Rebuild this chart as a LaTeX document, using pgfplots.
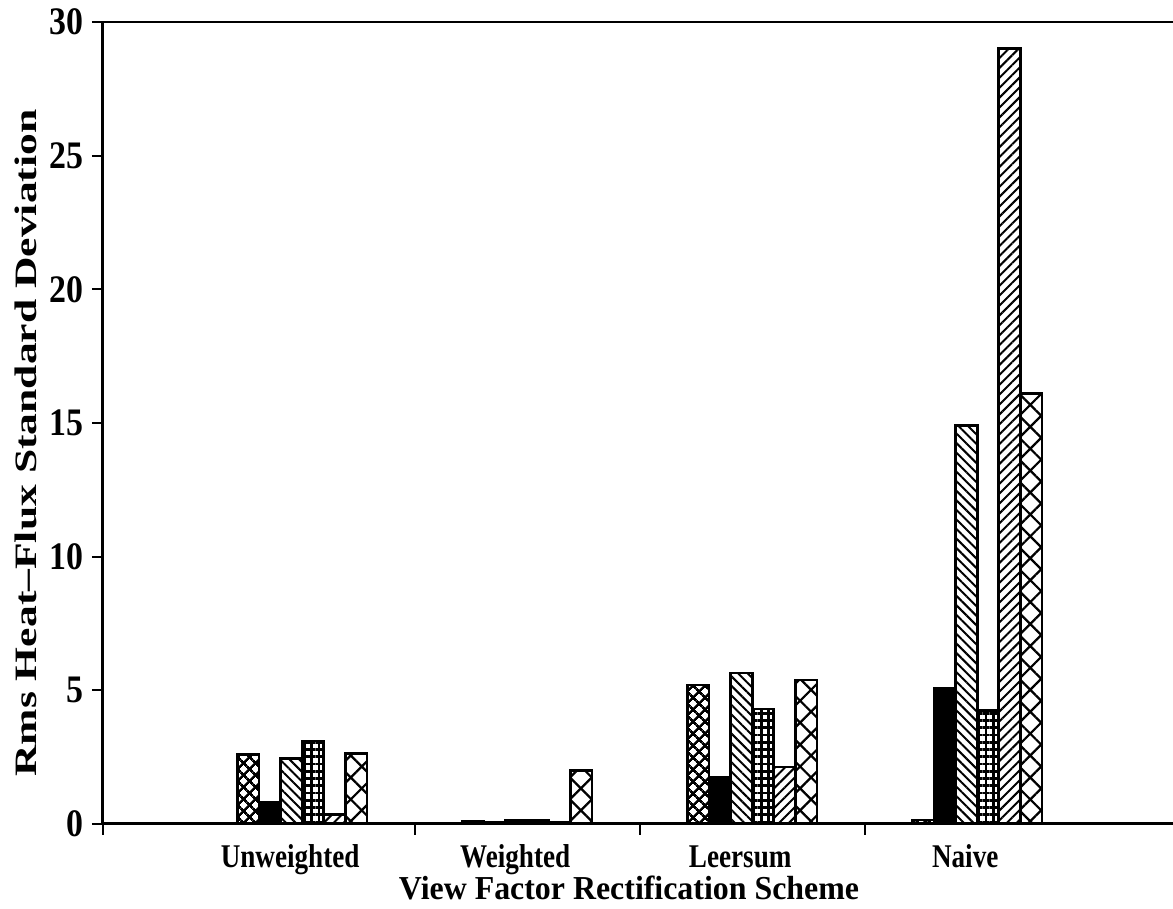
\documentclass[border=0pt]{standalone}
\usepackage{fontspec}
\setmainfont{Liberation Serif}
\usepackage{pgfplots}
\pgfplotsset{compat=1.18}
\usetikzlibrary{patterns.meta}
\newlength\px \setlength\px{0.4bp}

% one row per scheme: Unweighted, Weighted, Leersum, Naive
\pgfplotstableread{
x  a     b     c     d     e     f
0  2.60  0.80  2.45  3.10  0.35  2.65
1  0.10  0.05  0.12  0.12  0.05  2.00
2  5.20  1.76  5.65  4.30  2.13  5.39
3  0.15  5.08  14.9  4.25  29.0  16.1
}\rms

\begin{document}
\begin{tikzpicture}
\begin{axis}[
    scale only axis, width=1070\px, height=802\px,
    ybar=0pt, bar width=21.6\px,
    xmin=-0.885, xmax=3.87, ymin=0, ymax=30,
    axis x line*=bottom, axis y line*=left,
    axis line style={line width=1.2bp},
    tick style={black, line width=0.8bp},
    tick align=outside, major tick length=11\px,
    ytick={0,5,...,30},
    /pgf/number format/assume math mode=true,
    yticklabel style={font=\fontsize{13.6}{15}\selectfont\bfseries},
    yticklabel={\scalebox{1}[1.15]{\pgfmathprintnumber{\tick}}},
    xtick={-0.885,0.5,1.5,2.5}, xticklabels={,,,},
    extra x ticks={0,1,2,3},
    extra x tick labels={
        \scalebox{1}[1.22]{Unweighted},
        \scalebox{1}[1.22]{Weighted},
        \scalebox{1}[1.22]{Leersum},
        \scalebox{1}[1.22]{Naive}},
    extra x tick style={major tick length=0pt,
        tick label style={font=\fontsize{10.9}{13}\selectfont\bfseries,
            anchor=base, yshift=-44\px, xshift=-12\px}},
    xlabel={\scalebox{1}[1.05]{View Factor Rectification Scheme}},
    xlabel style={font=\fontsize{12.8}{15}\selectfont\bfseries,
        at={(axis description cs:0.4916,0)}, anchor=base, yshift=-76\px},
    ylabel={\scalebox{1.4}[1]{Rms Heat--Flux Standard Deviation}},
    ylabel style={font=\fontsize{12.5}{14}\selectfont\bfseries,
        at={(axis description cs:0,0.475)}, anchor=center, yshift=77\px},
    every axis plot/.append style={draw=black, line width=1.1bp},
]
\addplot[pattern={Hatch[angle=45,distance=3.6bp,line width=1.1bp]}] table[x=x,y=a] {\rms};
\addplot[fill=black] table[x=x,y=b] {\rms};
\addplot[pattern={Lines[angle=-45,distance=2.7bp,line width=0.8bp]}] table[x=x,y=c] {\rms};
\addplot[pattern={Hatch[angle=0,distance=2.9bp,line width=1.1bp]}] table[x=x,y=d] {\rms};
\addplot[pattern={Lines[angle=45,distance=2.8bp,line width=0.8bp]}] table[x=x,y=e] {\rms};
\addplot[pattern={Hatch[angle=45,distance=6.2bp,line width=0.9bp]}] table[x=x,y=f] {\rms};
\draw[line width=1.2bp] (rel axis cs:0,1) -- (rel axis cs:1,1);
\coordinate (ll) at (rel axis cs:0,0);
\coordinate (ur) at (rel axis cs:1,1);
\end{axis}
\pgfresetboundingbox
\path[use as bounding box] ([shift={(-103\px,-85\px)}]ll) rectangle ([shift={(0pt,22\px)}]ur);
\end{tikzpicture}
\end{document}
